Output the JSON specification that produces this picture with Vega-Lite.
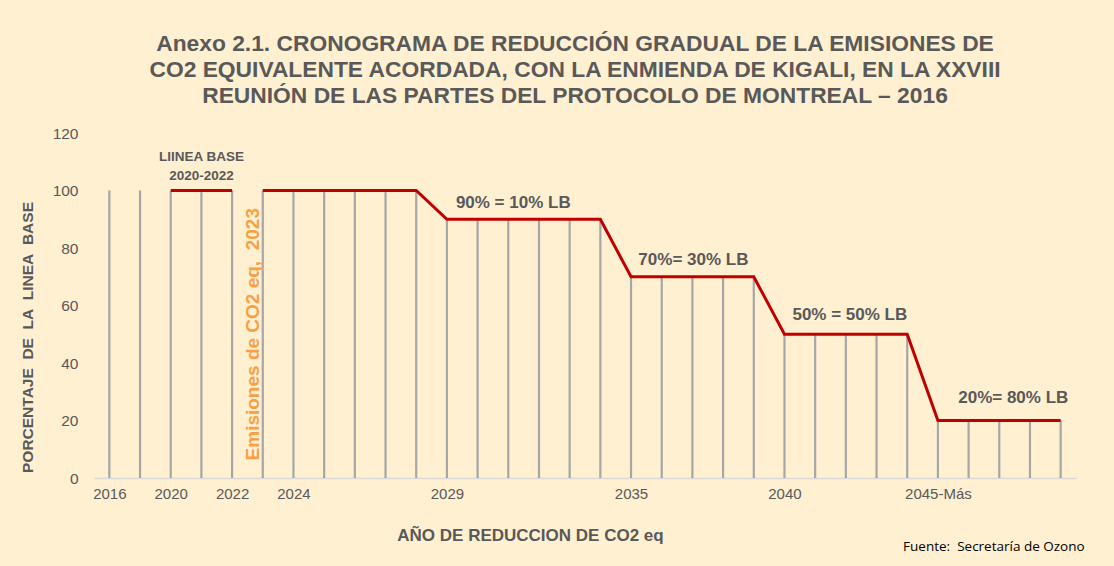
{
  "$schema": "https://vega.github.io/schema/vega-lite/v6.json",
  "autosize": "none",
  "width": 982,
  "height": 345,
  "padding": {"left": 94, "top": 133, "right": 38, "bottom": 88},
  "background": "#FFF0D2",
  "config": {
    "view": {"stroke": null},
    "font": "Liberation Sans"
  },
  "title": {
    "text": [
      "Anexo 2.1. CRONOGRAMA DE REDUCCIÓN GRADUAL DE LA EMISIONES DE",
      "CO2 EQUIVALENTE ACORDADA, CON LA ENMIENDA DE KIGALI, EN LA XXVIII",
      "REUNIÓN DE LAS PARTES DEL PROTOCOLO DE MONTREAL – 2016"
    ],
    "font": "Liberation Sans",
    "fontSize": 22.8,
    "fontWeight": "bold",
    "color": "#595959",
    "lineHeight": 26,
    "anchor": "middle",
    "dx": -10,
    "offset": 18
  },
  "datasets": {
    "serie": [
      {"anio": "2016", "v": 100, "seg": null},
      {"anio": "2019", "v": 100, "seg": null},
      {"anio": "2020", "v": 100, "seg": "A"},
      {"anio": "2021", "v": 100, "seg": "A"},
      {"anio": "2022", "v": 100, "seg": "A"},
      {"anio": "2023", "v": 100, "seg": "B"},
      {"anio": "2024", "v": 100, "seg": "B"},
      {"anio": "2025", "v": 100, "seg": "B"},
      {"anio": "2026", "v": 100, "seg": "B"},
      {"anio": "2027", "v": 100, "seg": "B"},
      {"anio": "2028", "v": 100, "seg": "B"},
      {"anio": "2029", "v": 90, "seg": "B"},
      {"anio": "2030", "v": 90, "seg": "B"},
      {"anio": "2031", "v": 90, "seg": "B"},
      {"anio": "2032", "v": 90, "seg": "B"},
      {"anio": "2033", "v": 90, "seg": "B"},
      {"anio": "2034", "v": 90, "seg": "B"},
      {"anio": "2035", "v": 70, "seg": "B"},
      {"anio": "2036", "v": 70, "seg": "B"},
      {"anio": "2037", "v": 70, "seg": "B"},
      {"anio": "2038", "v": 70, "seg": "B"},
      {"anio": "2039", "v": 70, "seg": "B"},
      {"anio": "2040", "v": 50, "seg": "B"},
      {"anio": "2041", "v": 50, "seg": "B"},
      {"anio": "2042", "v": 50, "seg": "B"},
      {"anio": "2043", "v": 50, "seg": "B"},
      {"anio": "2044", "v": 50, "seg": "B"},
      {"anio": "2045-Más", "v": 20, "seg": "B"},
      {"anio": "2046", "v": 20, "seg": "B"},
      {"anio": "2047", "v": 20, "seg": "B"},
      {"anio": "2048", "v": 20, "seg": "B"},
      {"anio": "2049", "v": 20, "seg": "B"}
    ],
    "notas": [
      {"id": "lb", "anio": "2021", "v": 100, "texto": ["LIINEA BASE", "2020-2022"]},
      {"id": "em", "anio": "2023", "v": 50, "texto": "Emisiones de CO2 eq,\u00a0 2023"},
      {"id": "n90", "anio": "2031", "v": 90, "texto": "90% = 10% LB"},
      {"id": "n70", "anio": "2037", "v": 70, "texto": "70%= 30% LB"},
      {"id": "n50", "anio": "2042", "v": 50, "texto": "50% = 50% LB"},
      {"id": "n20", "anio": "2047", "v": 20, "texto": "20%= 80% LB"},
      {"id": "fu", "anio": "2049", "v": -24, "texto": "Fuente:\u00a0 Secretaría de Ozono"}
    ]
  },
  "encoding": {
    "x": {
      "field": "anio",
      "type": "ordinal",
      "sort": null,
      "scale": {"type": "point", "padding": 0.5},
      "axis": {
        "title": "AÑO DE REDUCCION DE CO2 eq",
        "titleFont": "Liberation Sans",
        "titleFontSize": 17,
        "titleFontWeight": "bold",
        "titleColor": "#595959",
        "titleX": 436,
        "titleY": 57,
        "titleBaseline": "middle",
        "labelAngle": 0,
        "labelFontSize": 15,
        "labelColor": "#595959",
        "labelPadding": 8,
        "labelExpr": "indexof(['2016','2020','2022','2024','2029','2035','2040','2045-Más'], datum.value) >= 0 ? datum.value : ''",
        "ticks": false,
        "domainColor": "#D9D9D9",
        "domainWidth": 1.5,
        "grid": false
      }
    },
    "y": {
      "field": "v",
      "type": "quantitative",
      "scale": {"domain": [0, 120], "nice": false, "zero": true},
      "axis": {
        "title": "PORCENTAJE\u00a0 DE\u00a0 LA\u00a0 LINEA\u00a0 BASE",
        "titleFont": "Liberation Sans",
        "titleFontSize": 15.5,
        "titleFontWeight": "bold",
        "titleColor": "#595959",
        "titleX": -67,
        "titleY": 204,
        "titleAngle": -90,
        "titleAlign": "center",
        "titleBaseline": "middle",
        "values": [0, 20, 40, 60, 80, 100, 120],
        "labelFontSize": 15.5,
        "labelColor": "#595959",
        "labelPadding": 16,
        "ticks": false,
        "domain": false,
        "grid": false
      }
    }
  },
  "layer": [
    {
      "data": {"name": "serie"},
      "mark": {"type": "rule", "color": "#A6A6A6", "strokeWidth": 2.2},
      "encoding": {"y": {"datum": 0}, "y2": {"field": "v"}}
    },
    {
      "data": {"name": "serie"},
      "transform": [{"filter": "datum.seg != null"}],
      "mark": {"type": "line", "color": "#C00000", "strokeWidth": 3},
      "encoding": {"detail": {"field": "seg"}}
    },
    {
      "data": {"name": "notas"},
      "transform": [{"filter": "datum.id == 'lb'"}],
      "mark": {"type": "text", "fontSize": 13.5, "fontWeight": "bold", "color": "#595959", "baseline": "bottom", "dy": -27, "lineHeight": 19},
      "encoding": {"text": {"field": "texto"}}
    },
    {
      "data": {"name": "notas"},
      "transform": [{"filter": "datum.id == 'em'"}],
      "mark": {"type": "text", "fontSize": 19, "fontWeight": "bold", "color": "#F9A045", "angle": 270, "align": "center", "baseline": "middle", "dy": -10},
      "encoding": {"text": {"field": "texto"}}
    },
    {
      "data": {"name": "notas"},
      "transform": [{"filter": "datum.id == 'n90'"}],
      "mark": {"type": "text", "fontSize": 17, "fontWeight": "bold", "color": "#595959", "baseline": "middle", "dx": 5, "dy": -16},
      "encoding": {"text": {"field": "texto"}}
    },
    {
      "data": {"name": "notas"},
      "transform": [{"filter": "datum.id == 'n70'"}],
      "mark": {"type": "text", "fontSize": 17, "fontWeight": "bold", "color": "#595959", "baseline": "middle", "dx": 1, "dy": -17},
      "encoding": {"text": {"field": "texto"}}
    },
    {
      "data": {"name": "notas"},
      "transform": [{"filter": "datum.id == 'n50'"}],
      "mark": {"type": "text", "fontSize": 17, "fontWeight": "bold", "color": "#595959", "baseline": "middle", "dx": 4, "dy": -19},
      "encoding": {"text": {"field": "texto"}}
    },
    {
      "data": {"name": "notas"},
      "transform": [{"filter": "datum.id == 'n20'"}],
      "mark": {"type": "text", "fontSize": 17, "fontWeight": "bold", "color": "#595959", "baseline": "middle", "dx": 14, "dy": -23},
      "encoding": {"text": {"field": "texto"}}
    },
    {
      "data": {"name": "notas"},
      "transform": [{"filter": "datum.id == 'fu'"}],
      "mark": {"type": "text", "font": "Open Sans", "fontSize": 13.5, "fontWeight": "normal", "color": "#000000", "align": "right", "baseline": "middle", "dx": 24},
      "encoding": {"text": {"field": "texto"}}
    }
  ]
}
